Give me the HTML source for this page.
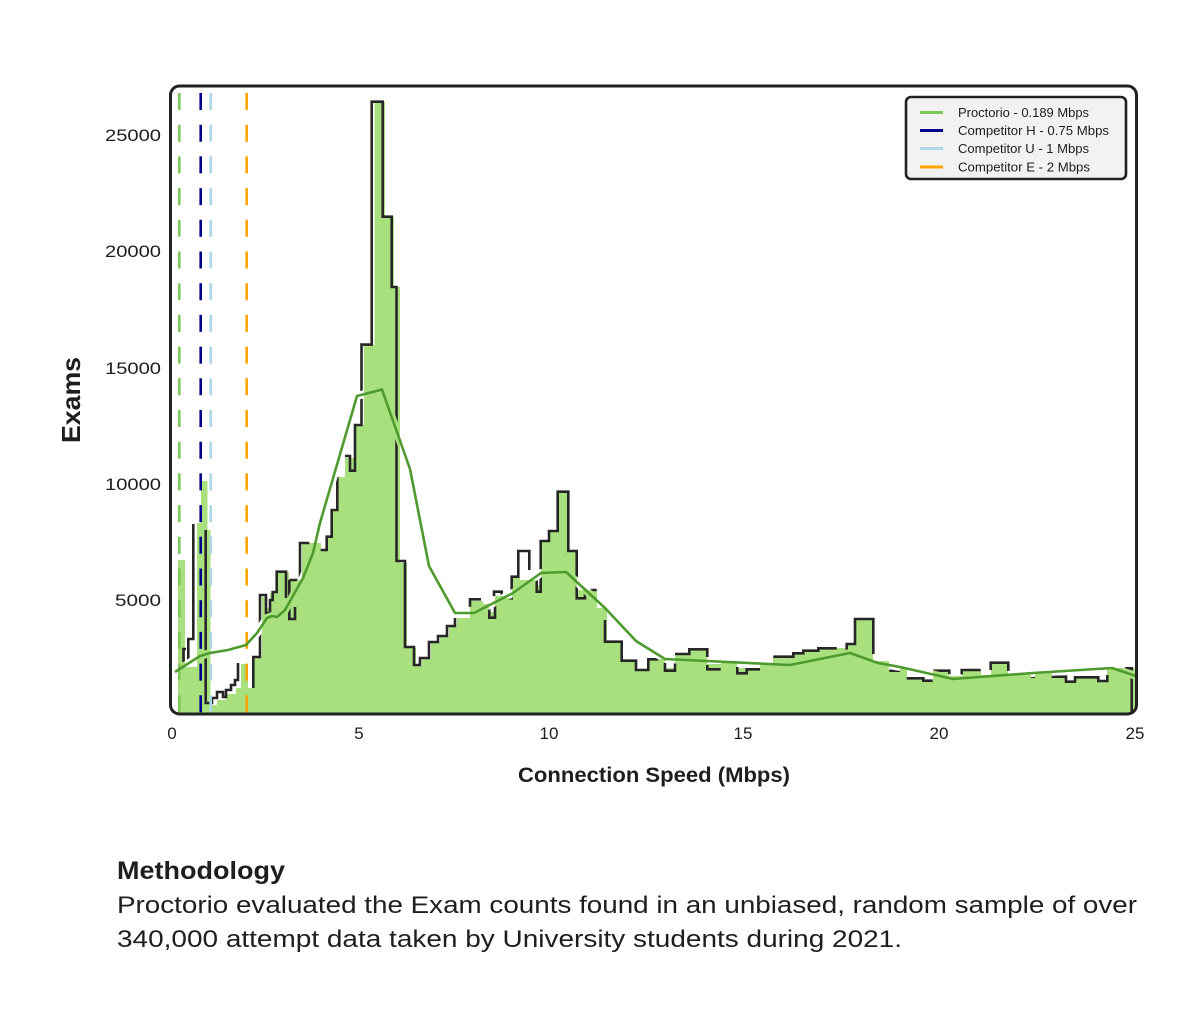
<!DOCTYPE html>
<html>
<head>
<meta charset="utf-8">
<style>
  html,body{margin:0;padding:0;background:#ffffff;}
  svg{display:block;}
  text{font-family:"Liberation Sans", Arial, sans-serif;fill:#1e1e1e;}
</style>
</head>
<body>
<svg width="1200" height="1021" viewBox="0 0 1200 1021" xmlns="http://www.w3.org/2000/svg">
  <defs>
    <clipPath id="plotclip">
      <rect x="171" y="87" width="965" height="626" rx="8"/>
    </clipPath>
    <mask id="kdemask" maskUnits="userSpaceOnUse" x="0" y="0" width="1200" height="1021">
      <rect x="0" y="0" width="1200" height="1021" fill="#fff"/>
      <polyline fill="none" stroke="#000" stroke-width="8" stroke-linejoin="round"
        points="175,672 200,656 210,653 228,650 246,645 257,633 267,618 272,616 277,617 285,610 303,578 313,553 320,523 357,396 382,389.5 410,469 429,566 455,613 474,613 513,593 541,573 566,572 605,608 636,641 665,659 790,665 850,653 878,663 900,667 953,679 1033,673 1112,668 1136,676"/>
    </mask>
  </defs>

  <rect x="0" y="0" width="1200" height="1021" fill="#ffffff"/>

  <g clip-path="url(#plotclip)">
    <!-- green histogram fill -->
    <path fill="#a8e07e" d="M178,713 V560 H185 V667 H197 V523 H201 V481 H207.5 V530 H210.5 V705 H217 V700 H226 V694 H236 V688 H241 V664 H248 V688 H254 V657 H262 V597 H266 V608 H270 V593 H277 V572 H289 V580 H302 V543 H321 V550 H327 V537 H332 V510 H338 V477 H345 V458 H356 V425 H364 V345 H374.5 V102 H385 V217 H394 V287 H400 V563 H407 V648 H416 V666 H422 V659 H431 V642 H440 V636 H449 V626 H457 V618 H470 V601 H483 V604 H489 V612 H495 V596 H503 V598 H512 V578 H520 V580 H537 V585 H541 V541 H549 V531 H558 V492 H568 V551 H577 V590 H597 V608 H607 V641.7 H622 V660.7 H636 V670 H648 V659 H665 V668 H675 V654 H689 V649 H707 V664 H721 V663 H737 V668 H747 V669 H760 V664 H773 V657 H793 V653 H803 V650.7 H818 V648 H847 V644 H855 V619 H873 V661 H889 V670.7 H900 V668 H907 V678 H923 V681 H933 V671 H949 V676 H962 V670 H981 V675 H991 V663 H1008 V674 H1031 V677 H1035 V673 H1052 V677 H1066 V682 H1075 V677 H1098 V681 H1107 V668 H1136 V713 Z"/>

    <!-- black step outline pieces -->
    <g mask="url(#kdemask)" fill="none" stroke="#262626" stroke-width="2.6" stroke-linejoin="miter" stroke-linecap="butt">
      <polyline points="183.5,662 183.5,649 186,649"/>
      <polyline points="188.3,661 188.3,639 193.3,639 193.3,524"/>
      <polyline points="205.7,530 205.7,703 212,703 212,698 217,698 217,692 223,692 223,697 226,697 226,690 231,690 231,685 235,685 235,680 238,680 238,663"/>
      <polyline points="253.3,688 253.3,657 260,657 260,595 266,595 266,613 270,613 270,600 272.7,600 272.7,592 276.7,592 276.7,571.7 286,571.7 286,598"/>
      <polyline points="289.3,580 289.3,619 295,619 295,607"/>
      <polyline points="289.3,580 300,580 300,543 309.3,543"/>
      <polyline points="320.7,550 326.7,550 326.7,536.7 331.7,536.7 331.7,510 337.3,510 337.3,476.7"/>
      <polyline points="345,456 350,456 350,470.7 355,470.7 355,425 361.5,425 361.5,344.6 371.7,344.6 371.7,101.7 382.7,101.7 382.7,216.7 391.7,216.7 391.7,287 396.5,287 396.5,561 405,561 405,647 414,647 414,665 420,665 420,658 429,658 429,642 438,642 438,636 447,636 447,626 455,626 455,618"/>
      <polyline points="470,606.7 470,599.3 481,599.3"/>
      <polyline points="489.3,603 489.3,617.7 495,617.7 495,603"/>
      <polyline points="494,596 494,591.7 501.7,591.7 501.7,598.3 511.7,598.3 511.7,576.7 518.3,576.7 518.3,551 529.3,551 529.3,570"/>
      <polyline points="536.7,580 536.7,591.7 540.7,591.7 540.7,541 549,541 549,531 557.7,531 557.7,491.7 568.3,491.7 568.3,551 576.7,551 576.7,598.3 585,598.3 585,590 596.7,590"/>
      <polyline points="605,620 605,641.7 621.7,641.7 621.7,660.7 636,660.7 636,670 648.3,670 648.3,659.3 658.3,659.3"/>
      <polyline points="665,663 665,670.7 675,670.7 675,663"/>
      <polyline points="675,654 689.3,654 689.3,649.3 707.3,649.3 707.3,669.3 720.7,669.3"/>
      <polyline points="737.3,667 737.3,673.3 746.7,673.3 746.7,669.3 760,669.3"/>
      <polyline points="773.3,656.7 793.3,656.7 793.3,653.3 803.3,653.3 803.3,650.7 818.3,650.7 818.3,648.3 836.7,648.3"/>
      <polyline points="846.7,650 846.7,644 855,644 855,619 873.3,619 873.3,654"/>
      <polyline points="889.3,670.7 900,670.7"/>
      <polyline points="906.7,678.3 923.3,678.3 923.3,680.7 932.7,680.7"/>
      <polyline points="933.3,670.7 949.3,670.7 949.3,675"/>
      <polyline points="961.7,675 961.7,670 980.7,670"/>
      <polyline points="990.7,670 990.7,662.7 1008.3,662.7 1008.3,673.3"/>
      <polyline points="1030.7,676.7 1035,676.7"/>
      <polyline points="1051.7,676.7 1066,676.7 1066,681.7 1075,681.7 1075,677.3 1098.3,677.3 1098.3,681 1107.3,681 1107.3,675"/>
      <polyline points="1125,668.3 1131.7,668.3 1131.7,711.7"/>
    </g>

    <!-- vertical dashed reference lines -->
    <g fill="none" stroke-width="2.6" stroke-dasharray="17 14.7">
      <line x1="179.3" y1="93" x2="179.3" y2="713" stroke="#7cc858"/>
      <line x1="200.7" y1="93" x2="200.7" y2="713" stroke="#00008b"/>
      <line x1="210.7" y1="93" x2="210.7" y2="713" stroke="#add8e6"/>
      <line x1="246.7" y1="93" x2="246.7" y2="713" stroke="#ffa500"/>
    </g>

    <!-- KDE line -->
    <polyline fill="none" stroke="#4f9a2e" stroke-width="2.6" stroke-linejoin="round"
      points="175,672 200,656 210,653 228,650 246,645 257,633 267,618 272,616 277,617 285,610 303,578 313,553 320,523 357,396 382,389.5 410,469 429,566 455,613 474,613 513,593 541,573 566,572 605,608 636,641 665,659 790,665 850,653 878,663 900,667 953,679 1033,673 1112,668 1136,676"/>
  </g>

  <!-- frame -->
  <rect x="170.5" y="86" width="966" height="628" rx="9" fill="none" stroke="#222" stroke-width="3"/>

  <!-- legend -->
  <rect x="906" y="97" width="220" height="82" rx="5" fill="#f2f2f2" stroke="#222" stroke-width="2.6"/>
  <g stroke-width="3">
    <line x1="920" y1="112.5" x2="943" y2="112.5" stroke="#7cc858"/>
    <line x1="920" y1="130.5" x2="943" y2="130.5" stroke="#00008b"/>
    <line x1="920" y1="148.5" x2="943" y2="148.5" stroke="#add8e6"/>
    <line x1="920" y1="167" x2="943" y2="167" stroke="#ffa500"/>
  </g>
  <g font-size="12.5" style="fill:#2a2a2a">
    <text x="958" y="117" textLength="131" lengthAdjust="spacingAndGlyphs">Proctorio - 0.189 Mbps</text>
    <text x="958" y="135" textLength="151" lengthAdjust="spacingAndGlyphs">Competitor H - 0.75 Mbps</text>
    <text x="958" y="153" textLength="131" lengthAdjust="spacingAndGlyphs">Competitor U - 1 Mbps</text>
    <text x="958" y="171.5" textLength="132" lengthAdjust="spacingAndGlyphs">Competitor E - 2 Mbps</text>
  </g>

  <!-- y tick labels -->
  <g font-size="17" text-anchor="end">
    <text x="161" y="141" textLength="56" lengthAdjust="spacingAndGlyphs">25000</text>
    <text x="161" y="257" textLength="56" lengthAdjust="spacingAndGlyphs">20000</text>
    <text x="161" y="374" textLength="56" lengthAdjust="spacingAndGlyphs">15000</text>
    <text x="161" y="490" textLength="56" lengthAdjust="spacingAndGlyphs">10000</text>
    <text x="161" y="606" textLength="46" lengthAdjust="spacingAndGlyphs">5000</text>
  </g>

  <!-- x tick labels -->
  <g font-size="17" text-anchor="middle">
    <text x="172" y="739">0</text>
    <text x="359" y="739">5</text>
    <text x="549" y="739">10</text>
    <text x="743" y="739">15</text>
    <text x="939" y="739">20</text>
    <text x="1135" y="739">25</text>
  </g>

  <!-- axis labels -->
  <text x="518" y="782" font-size="21" font-weight="bold" textLength="272" lengthAdjust="spacingAndGlyphs">Connection Speed (Mbps)</text>
  <text transform="translate(80,400) rotate(-90)" x="0" y="0" font-size="26" font-weight="bold" text-anchor="middle" textLength="86" lengthAdjust="spacingAndGlyphs">Exams</text>

  <!-- methodology -->
  <text x="117" y="879" font-size="25" font-weight="bold" textLength="168" lengthAdjust="spacingAndGlyphs">Methodology</text>
  <text x="117" y="913" font-size="24" textLength="1020" lengthAdjust="spacingAndGlyphs">Proctorio evaluated the Exam counts found in an unbiased, random sample of over</text>
  <text x="117" y="947" font-size="24" textLength="785" lengthAdjust="spacingAndGlyphs">340,000 attempt data taken by University students during 2021.</text>
</svg>
</body>
</html>
